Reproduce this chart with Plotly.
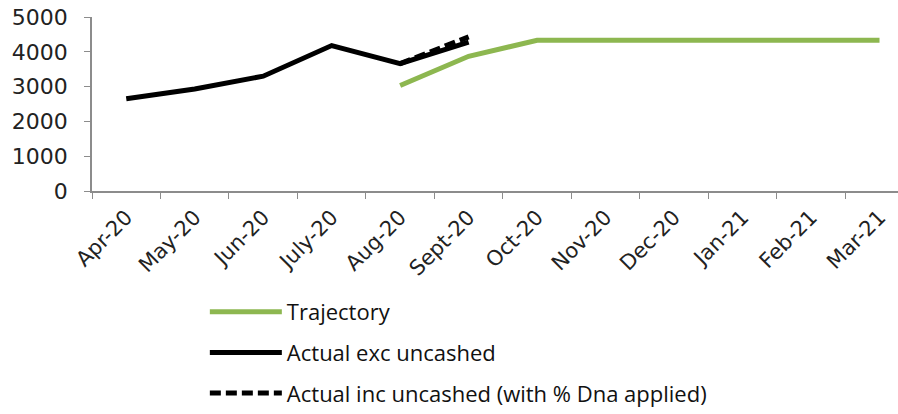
import plotly.graph_objects as go

months = ["Apr-20", "May-20", "Jun-20", "July-20", "Aug-20", "Sept-20",
          "Oct-20", "Nov-20", "Dec-20", "Jan-21", "Feb-21", "Mar-21"]

trajectory = [None, None, None, None, 3030, 3870, 4330, 4330, 4330, 4330, 4330, 4330]
actual_exc = [2650, 2930, 3300, 4180, 3660, 4280, None, None, None, None, None, None]
actual_inc = [None, None, None, None, 3660, 4430, None, None, None, None, None, None]

fig = go.Figure()
fig.add_trace(go.Scatter(x=months, y=trajectory, name="Trajectory", mode="lines",
                         line=dict(color="#8DB750", width=5), legendgroup="a"))
fig.add_trace(go.Scatter(x=months, y=actual_exc, name="Actual exc uncashed", mode="lines",
                         line=dict(color="#000000", width=5), legendgroup="b"))
fig.add_trace(go.Scatter(x=months, y=actual_inc, name="Actual inc uncashed (with % Dna applied)",
                         mode="lines", line=dict(color="#000000", width=5, dash="11px,5px"),
                         legendgroup="c"))

fig.update_layout(
    width=898, height=414,
    margin=dict(l=92, r=0, t=17, b=222),
    paper_bgcolor="white", plot_bgcolor="white",
    showlegend=True,
    legend=dict(x=0.14, y=-0.571, xanchor="left", yanchor="top",
                orientation="v", traceorder="grouped", tracegroupgap=9,
                itemwidth=72, font=dict(family="Open Sans", size=22, color="#111111"),
                bgcolor="rgba(0,0,0,0)"),
    xaxis=dict(type="category", range=[-0.5, 11.27], showgrid=False,
               showline=True, linecolor="#8c8c8c", linewidth=1.5,
               ticks="outside", tickson="boundaries", ticklen=6, tickcolor="#8c8c8c",
               tickangle=-45, automargin=False, ticklabelstandoff=4,
               tickfont=dict(family="DejaVu Sans", size=21, color="#222222")),
    yaxis=dict(range=[0, 5000], dtick=1000, showgrid=False, zeroline=False,
               showline=True, linecolor="#8c8c8c", linewidth=1.5,
               ticks="outside", ticklen=6, tickcolor="#8c8c8c", automargin=False,
               ticklabelstandoff=12,
               tickfont=dict(family="DejaVu Sans", size=22, color="#222222")),
)

fig.write_html("out.html")
